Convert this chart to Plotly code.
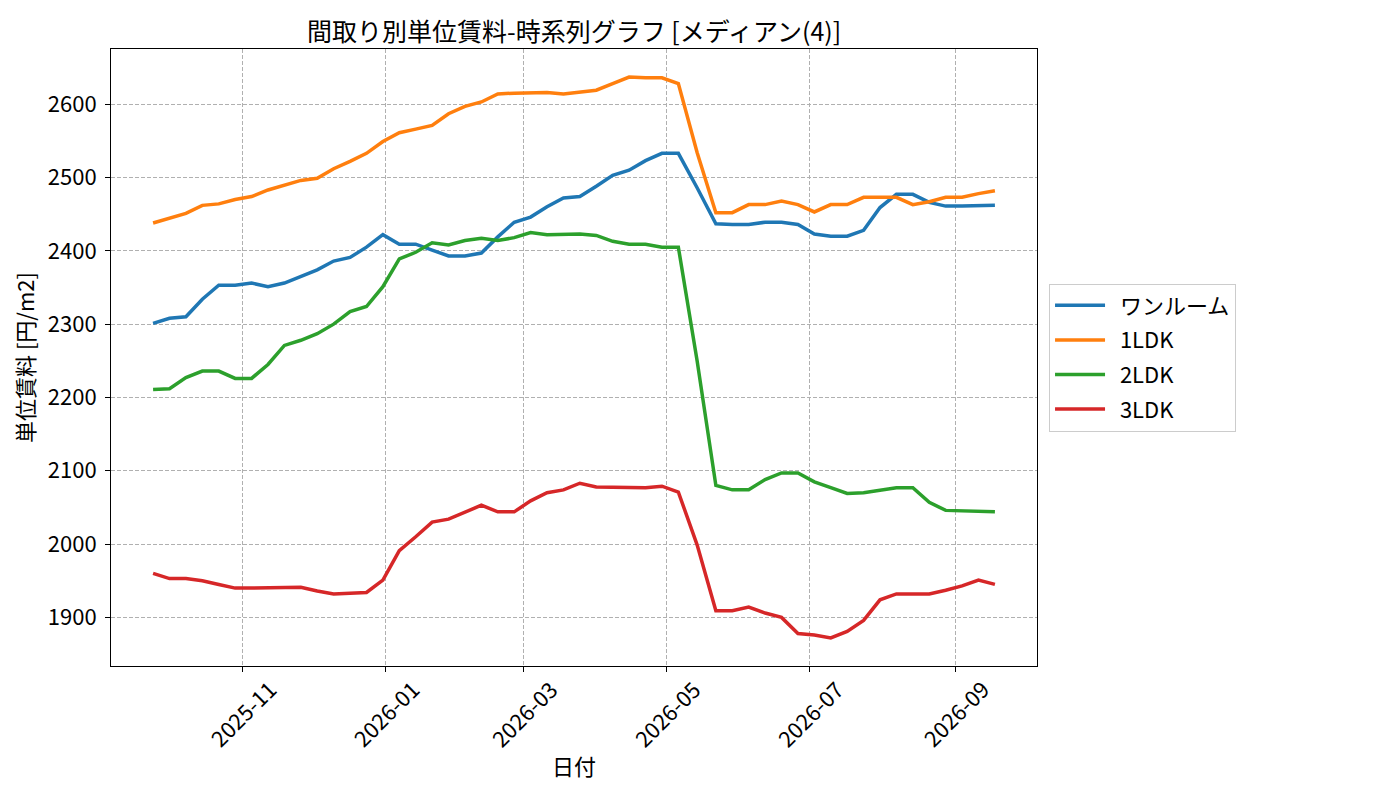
import pandas as pd
import plotly.graph_objects as go

# Weekly observation dates
dates = [
    "2025-09-24", "2025-10-01", "2025-10-08", "2025-10-15", "2025-10-22",
    "2025-10-29", "2025-11-05", "2025-11-12", "2025-11-19", "2025-11-26",
    "2025-12-03", "2025-12-10", "2025-12-17", "2025-12-24", "2025-12-31",
    "2026-01-07", "2026-01-14", "2026-01-21", "2026-01-28", "2026-02-04",
    "2026-02-11", "2026-02-18", "2026-02-25", "2026-03-04", "2026-03-11",
    "2026-03-18", "2026-03-25", "2026-04-01", "2026-04-08", "2026-04-15",
    "2026-04-22", "2026-04-29", "2026-05-06", "2026-05-14", "2026-05-22",
    "2026-05-29", "2026-06-05", "2026-06-12", "2026-06-19", "2026-06-26",
    "2026-07-03", "2026-07-10", "2026-07-17", "2026-07-24", "2026-07-31",
    "2026-08-07", "2026-08-14", "2026-08-21", "2026-08-28", "2026-09-04",
    "2026-09-11", "2026-09-18",
]

# Unit rent per layout [yen/m2]
one_room = [
    2301, 2308, 2310, 2334, 2353, 2353, 2356, 2351, 2356, 2365,
    2374, 2386, 2391, 2405, 2422, 2409, 2409, 2401, 2393, 2393,
    2397, 2419, 2439, 2446, 2460, 2472, 2474, 2488, 2503, 2510,
    2523, 2533, 2533, 2486, 2437, 2436, 2436, 2439, 2439, 2436,
    2423, 2420, 2420, 2428, 2459, 2477, 2477, 2466, 2461, 2461,
    2462, 2462,
]
ldk1 = [
    2438, 2444, 2451, 2462, 2464, 2470, 2474, 2483, 2490, 2496,
    2499, 2512, 2522, 2533, 2549, 2561, 2566, 2571, 2587, 2597,
    2603, 2614, 2615, 2616, 2616, 2614, 2616, 2619, 2628, 2637,
    2636, 2636, 2628, 2534, 2452, 2452, 2463, 2463, 2468, 2463,
    2453, 2463, 2463, 2473, 2473, 2473, 2463, 2467, 2473, 2473,
    2478, 2482,
]
ldk2 = [
    2211, 2212, 2227, 2236, 2236, 2226, 2226, 2245, 2271, 2278,
    2287, 2300, 2317, 2324, 2351, 2389, 2398, 2411, 2408, 2414,
    2417, 2414, 2418, 2425, 2422, 2422, 2423, 2421, 2413, 2409,
    2409, 2405, 2405, 2250, 2080, 2074, 2074, 2088, 2097, 2097,
    2085, 2077, 2069, 2070, 2073, 2077, 2077, 2057, 2046, 2045,
    2045, 2044,
]
ldk3 = [
    1960, 1953, 1953, 1950, 1945, 1940, 1940, 1940, 1940, 1941,
    1936, 1932, 1933, 1934, 1951, 1991, 2010, 2030, 2034, 2043,
    2053, 2044, 2044, 2059, 2070, 2074, 2083, 2078, 2078, 2077,
    2077, 2079, 2071, 1999, 1909, 1909, 1914, 1906, 1900, 1878,
    1876, 1872, 1881, 1896, 1924, 1932, 1932, 1932, 1937, 1943,
    1951, 1945,
]

series_names = ["ワンルーム", "1LDK", "2LDK", "3LDK"]
series_values = [one_room, ldk1, ldk2, ldk3]
colors = ["#1f77b4", "#ff7f0e", "#2ca02c", "#d62728"]

x_ticks = ["2025-11-01", "2026-01-01", "2026-03-01", "2026-05-01", "2026-07-01", "2026-09-01"]
x_ticktext = ["2025-11", "2026-01", "2026-03", "2026-05", "2026-07", "2026-09"]

FONT = "Noto Sans CJK JP"

fig = go.Figure()
for name, vals, color in zip(series_names, series_values, colors):
    # non-breaking spaces push the legend text away from the line sample
    fig.add_trace(go.Scatter(x=dates, y=vals, name="\u00a0\u00a0" + name, mode="lines",
                             legendgroup=name,
                             line=dict(color=color, width=3.5)))

# matplotlib-like 5% margins around the data
d = pd.to_datetime(dates)
pad = (d.max() - d.min()) * 0.05
x_range = [d.min() - pad, d.max() + pad]
all_vals = [v for s in series_values for v in s]
ypad = (max(all_vals) - min(all_vals)) * 0.05
y_range = [min(all_vals) - ypad, max(all_vals) + ypad]

axis_style = dict(
    showline=True, linecolor="black", linewidth=1, mirror=True,
    ticks="outside", ticklen=5, tickcolor="black",
    showgrid=True, gridcolor="#b0b0b0", griddash="4px,2px", gridwidth=1,
    zeroline=False, tickfont=dict(size=22, color="black"),
)

# rotated date labels centred under their ticks (matplotlib style)
for tv, tt in zip(x_ticks, x_ticktext):
    fig.add_annotation(x=tv, y=0, xref="x", yref="paper", text=tt,
                       showarrow=False, textangle=-45, xanchor="center",
                       yanchor="middle", yshift=-47,
                       font=dict(size=22, color="black"))

fig.update_layout(
    width=1384, height=784,
    margin=dict(l=103, r=355, t=41, b=126),
    plot_bgcolor="white", paper_bgcolor="white",
    font=dict(family=FONT, color="black"),
    title=dict(text="間取り別単位賃料-時系列グラフ [メディアン(4)]",
               x=0.409, xanchor="center", y=0.969, yanchor="middle",
               font=dict(size=25)),
    legend=dict(x=1.013, xanchor="left", y=0.5, yanchor="middle",
                bordercolor="#cccccc", borderwidth=1, font=dict(size=22),
                itemwidth=50, tracegroupgap=3),
)
fig.update_xaxes(axis_style, range=x_range, tickvals=x_ticks, showticklabels=False,
                 title=dict(text="日付", font=dict(size=22), standoff=88))
fig.update_yaxes(axis_style, range=y_range, dtick=100, ticklabelstandoff=4,
                 title=dict(text="単位賃料 [円/m2]", font=dict(size=22), standoff=12))

fig.write_html("out.html")
